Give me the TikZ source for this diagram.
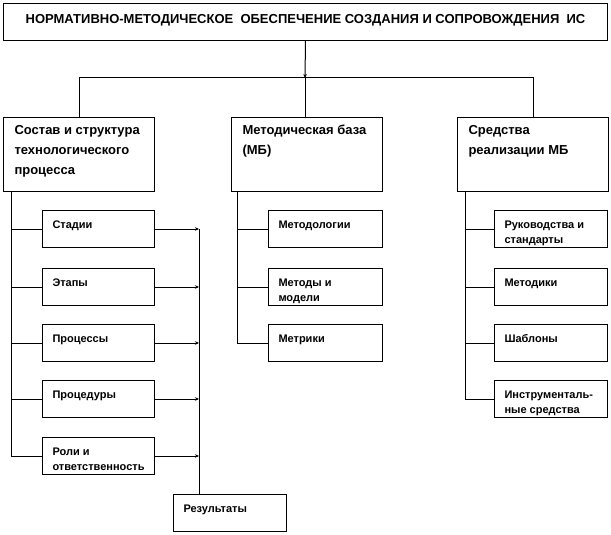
\documentclass[tikz,border=0pt]{standalone}
\usepackage{fontspec}
\setmainfont{Liberation Sans}
\usetikzlibrary{arrows.meta}
\newcommand\ttltxt[1]{\parbox[t][37pt][t]{604pt}{\centering\fontsize{13pt}{16pt}\selectfont\bfseries\rule{0pt}{20pt}#1}}
\newcommand\headtxt[1]{\parbox[t][74pt][t]{151pt}{\raggedright\fontsize{13pt}{20pt}\selectfont\bfseries\leftskip=11pt\rule{0pt}{17pt}#1}}
\newcommand\subtxt[2]{\parbox[t][37pt][t]{#1}{\raggedright\fontsize{11pt}{15pt}\selectfont\bfseries\leftskip=10pt\rule{0pt}{18pt}#2}}
\tikzset{
  bx/.style={draw, line width=1pt, inner sep=0pt, anchor=north west},
  ln/.style={line width=1pt},
  arr/.style={line width=1pt, -{Stealth[length=4pt,width=3.5pt]}}
}
\begin{document}
\begin{tikzpicture}[x=1pt,y=-1pt]
\useasboundingbox (0,0) rectangle (611,535);
\node[bx] (title) at (3,3) {\ttltxt{НОРМАТИВНО-МЕТОДИЧЕСКОЕ\ \ ОБЕСПЕЧЕНИЕ СОЗДАНИЯ И СОПРОВОЖДЕНИЯ\ \ ИС}};
\node[bx] (h1) at (3,117) {\headtxt{Состав и структура\\технологического\\процесса}};
\node[bx] (h2) at (231,117) {\headtxt{Методическая база\\(МБ)}};
\node[bx] (h3) at (457,117) {\headtxt{Средства\\реализации МБ}};
% left column
\node[bx] (s1) at (42,210) {\subtxt{112pt}{Стадии}};
\node[bx] (s2) at (42,268) {\subtxt{112pt}{Этапы}};
\node[bx] (s3) at (42,324) {\subtxt{112pt}{Процессы}};
\node[bx] (s4) at (42,380) {\subtxt{112pt}{Процедуры}};
\node[bx] (s5) at (42,437) {\subtxt{112pt}{Роли и\\ответственность}};
\node[bx] (res) at (173,494) {\subtxt{113pt}{Результаты}};
% middle column
\node[bx] (m1) at (268,210) {\subtxt{114pt}{Методологии}};
\node[bx] (m2) at (268,268) {\subtxt{114pt}{Методы и\\модели}};
\node[bx] (m3) at (268,324) {\subtxt{114pt}{Метрики}};
% right column
\node[bx] (r1) at (494,210) {\subtxt{113pt}{Руководства и\\стандарты}};
\node[bx] (r2) at (494,268) {\subtxt{113pt}{Методики}};
\node[bx] (r3) at (494,324) {\subtxt{113pt}{Шаблоны}};
\node[bx] (r4) at (494,380) {\subtxt{113pt}{Инструменталь-\\ные средства}};
% top connectors
\coordinate (hub) at (305,78);
\draw[arr] (title.south) -- (hub);
\draw[ln] (h1.north) -- (h1.north |- hub) -- (h3.north |- hub) -- (h3.north);
\draw[ln] (hub) -- (hub |- h2.north);
% trunks
\coordinate (t1) at (11,191);
\coordinate (t2) at (237,191);
\coordinate (t3) at (465,191);
\draw[ln] (t1) -- (t1 |- s5.west);
\foreach \n in {s1,s2,s3,s4,s5} \draw[ln] (t1 |- \n.west) -- (\n.west);
\draw[ln] (t2) -- (t2 |- m3.west);
\foreach \n in {m1,m2,m3} \draw[ln] (t2 |- \n.west) -- (\n.west);
\draw[ln] (t3) -- (t3 |- r4.west);
\foreach \n in {r1,r2,r3,r4} \draw[ln] (t3 |- \n.west) -- (\n.west);
% results bus
\coordinate (bus) at (199,0);
\foreach \n in {s1,s2,s3,s4,s5} \draw[arr] (\n.east) -- (bus |- \n.east);
\draw[ln] (bus |- s1.east) -- (bus |- res.north);
\end{tikzpicture}
\end{document}
